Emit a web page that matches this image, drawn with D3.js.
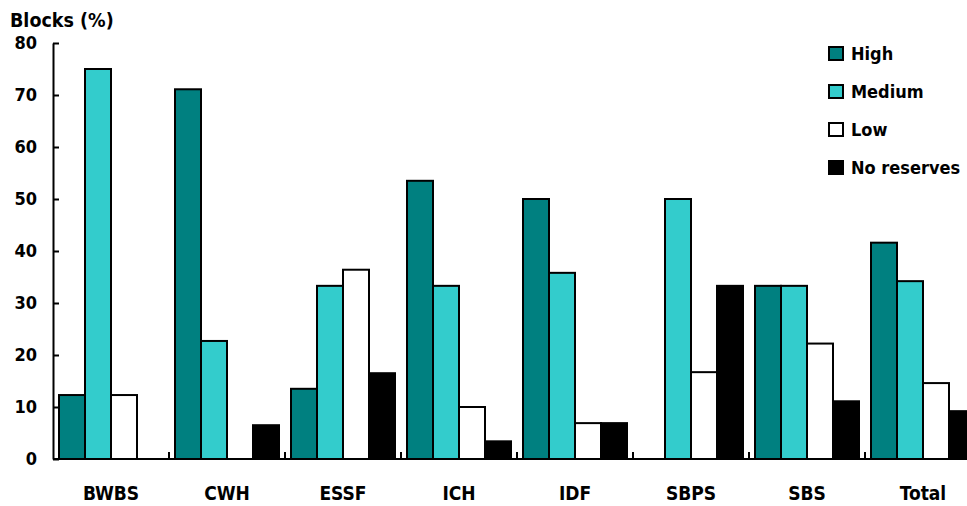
<!DOCTYPE html>
<html>
<head>
<meta charset="utf-8">
<script src="https://d3js.org/d3.v7.min.js"></script>
<style>
  body { margin: 0; background: #fff; }
  svg text { font-family: "Liberation Sans Narrow", "DejaVu Sans Condensed", "Roboto Condensed", sans-serif; font-weight: bold; fill: #000; }
</style>
</head>
<body>
<div id="chart"></div>
<script>

// data
var zones = ["BWBS", "CWH", "ESSF", "ICH", "IDF", "SBPS", "SBS", "Total"];
var levels = ["High", "Medium", "Low", "No reserves"];
var high      = [12.3, 71.1, 13.5, 53.5, 50.0,  0.0, 33.3, 41.6];
var medium    = [75.0, 22.7, 33.3, 33.3, 35.8, 50.0, 33.3, 34.2];
var low       = [12.3,  0.0, 36.4, 10.0,  6.9, 16.7, 22.2, 14.6];
var noReserve = [ 0.0,  6.5, 16.5,  3.4,  6.9, 33.3, 11.1,  9.2];
var yTicks = [0, 10, 20, 30, 40, 50, 60, 70, 80];

var series = [high, medium, low, noReserve];
var colors = ["#008080", "#33cccc", "#ffffff", "#000000"];

var width = 967, height = 506;
var margin = {top: 43, left: 53, bottom: 47};
var bandW = 116;

var svg = d3.select("#chart").append("svg")
    .attr("width", width)
    .attr("height", height);

var x = d3.scaleBand().domain(zones).range([margin.left, margin.left + bandW * zones.length]);
var xi = d3.scaleBand().domain(levels).range([6, bandW - 6]);
var y = d3.scaleLinear().domain([0, 80]).range([height - margin.bottom, margin.top]);

// bars
zones.forEach(function(z, i) {
  var g = svg.append("g").attr("transform", "translate(" + x(z) + ",0)");
  levels.forEach(function(lv, j) {
    var v = series[j][i];
    if (v <= 0) return;
    g.append("rect")
      .attr("x", xi(lv))
      .attr("y", y(v))
      .attr("width", xi.bandwidth())
      .attr("height", y(0) - y(v))
      .attr("fill", colors[j])
      .attr("stroke", "#000")
      .attr("stroke-width", 2);
  });
});

// y axis
var yAxis = svg.append("g")
  .attr("transform", "translate(" + margin.left + ",0)")
  .call(d3.axisRight(y).tickValues(yTicks).tickSize(6).tickSizeOuter(0).tickFormat(""));
yAxis.selectAll("line, path").attr("stroke", "#000").attr("stroke-width", 2);
yAxis.selectAll("text").remove();

yTicks.forEach(function(t) {
  svg.append("text")
    .attr("x", 37)
    .attr("y", y(t))
    .attr("dy", "0.36em")
    .attr("text-anchor", "end")
    .style("font-size", "18px")
    .text(t);
});

// x axis, ticks between groups pointing up
var xAxis = svg.append("g")
  .attr("transform", "translate(0," + y(0) + ")");
xAxis.append("line")
  .attr("x1", margin.left).attr("x2", width)
  .attr("stroke", "#000").attr("stroke-width", 2);
zones.forEach(function(z) {
  xAxis.append("line")
    .attr("x1", x(z) + bandW).attr("x2", x(z) + bandW)
    .attr("y1", 0).attr("y2", -7)
    .attr("stroke", "#000").attr("stroke-width", 2);
  svg.append("text")
    .attr("x", x(z) + bandW / 2)
    .attr("y", 500)
    .attr("text-anchor", "middle")
    .style("font-size", "19px")
    .text(z);
});

// axis title
svg.append("text")
  .attr("x", 10)
  .attr("y", 27)
  .style("font-size", "19.5px")
  .text("Blocks (%)");

// legend
var legend = svg.append("g").attr("transform", "translate(829,47)");
levels.forEach(function(lv, j) {
  var row = legend.append("g").attr("transform", "translate(0," + j * 38 + ")");
  row.append("rect")
    .attr("width", 14).attr("height", 13)
    .attr("fill", colors[j])
    .attr("stroke", "#000").attr("stroke-width", 2);
  row.append("text")
    .attr("x", 22).attr("y", 7)
    .attr("dy", "0.36em")
    .style("font-size", "18px")
    .text(lv);
});

</script>
</body>
</html>
